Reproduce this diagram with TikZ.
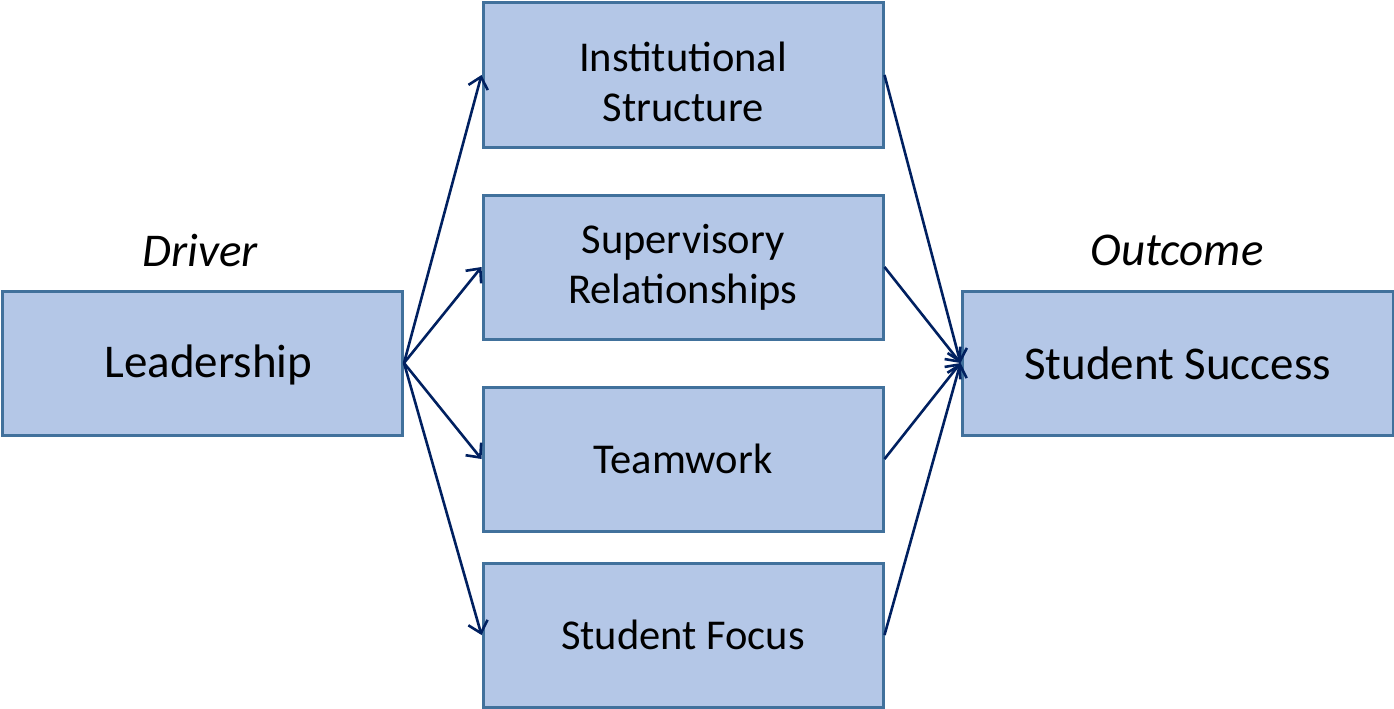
\documentclass[tikz,border=0pt]{standalone}
\usepackage{fontspec}
\setmainfont{Carlito}
\usetikzlibrary{arrows.meta}
\definecolor{boxfill}{HTML}{B4C7E7}
\definecolor{boxline}{HTML}{41719C}
\definecolor{arrowc}{HTML}{002060}
\begin{document}
\begin{tikzpicture}[x=1pt,y=-1pt,
  box/.style={draw=boxline,fill=boxfill,line width=3pt,minimum width=400pt,minimum height=144pt,inner sep=0pt,align=center,font=\fontsize{42.5}{50}\selectfont},
  bigbox/.style={box,font=\fontsize{47}{56}\selectfont},
  txt/.style={inner sep=0pt,align=center,font=\fontsize{42.5}{50}\selectfont},
  bigtxt/.style={txt,font=\fontsize{47}{56}\selectfont},
  conn/.style={draw=arrowc,line width=2.6pt,-{Straight Barb[length=11pt,width=20pt,line width=2.6pt]}},
  lbl/.style={font=\fontsize{47}{56}\itshape\selectfont}]
\useasboundingbox (0,0) rectangle (1394,709);
\node[bigbox] (lead) at (202.5,363) {};
\node[bigtxt] (leadtxt) at (208.5,365) {Leadership};
\node[box] (inst) at (683,75) {};
\node[txt] (insttxt) at (683,82) {Institutional\\Structure};
\node[box] (sup) at (683,267) {Supervisory\\Relationships};
\node[box] (team) at (683,459) {Teamwork};
\node[box] (focus) at (683,635) {Student Focus};
\node[bigbox,minimum width=431pt] (succ) at (1177.5,363) {Student Success};
\node[lbl] (drv) at (200,250) {Driver};
\node[lbl] (out) at (1177,250) {Outcome};
\foreach \t in {inst,sup,team,focus}{
  \draw[conn] (lead.east) -- (\t.west);
  \draw[conn] (\t.east) -- (succ.west);
}
\end{tikzpicture}
\end{document}
